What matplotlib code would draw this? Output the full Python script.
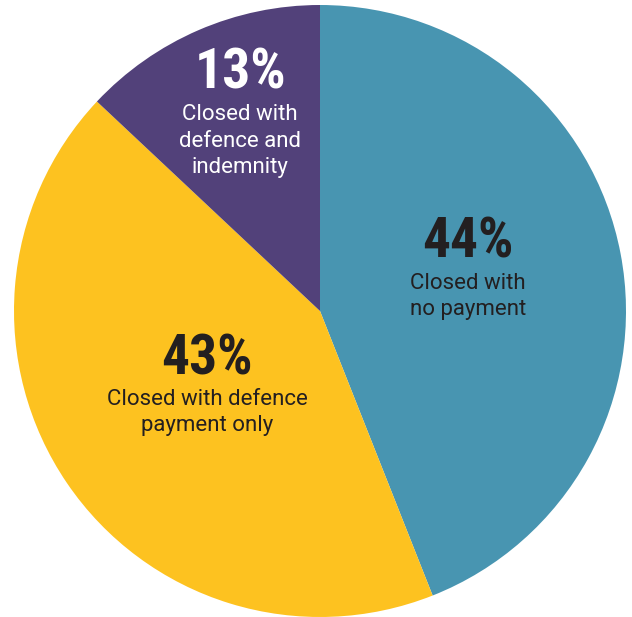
import matplotlib
matplotlib.use("Agg")
import matplotlib.pyplot as plt

# claim outcome shares, clockwise from 12 o'clock
labels = ["Closed with\nno payment", "Closed with defence\npayment only", "Closed with\ndefence and\nindemnity"]
shares = [44, 43, 13]
colors = ["#4895B1", "#FDC220", "#52417A"]
text_colors = ["#231F20", "#231F20", "#FFFFFF"]

# label anchor points in axes data units (pie radius = 1)
pct_pos = [(0.484, 0.225), (-0.369, -0.16), (-0.261, 0.776)]
txt_pos = [(0.484, 0.048), (-0.369, -0.332), (-0.261, 0.555)]

fig = plt.figure(figsize=(6.32, 6.17), dpi=100)
ax = fig.add_axes([14 / 632, 0.0, 612 / 632, 612 / 617])
ax.pie(shares, colors=colors, startangle=90, counterclock=False, radius=1.0,
       wedgeprops=dict(linewidth=0))
ax.set_xlim(-1, 1)
ax.set_ylim(-1, 1)
ax.set_aspect("equal")
ax.axis("off")

for s, lab, c, p, t in zip(shares, labels, text_colors, pct_pos, txt_pos):
    ax.text(p[0], p[1], f"{s}%", ha="center", va="center", color=c,
            fontsize=40, fontweight="bold",
            family=["Roboto Condensed", "Open Sans Condensed", "Roboto"])
    ax.text(t[0], t[1], lab, ha="center", va="center", color=c,
            fontsize=16, linespacing=1.35, family=["Roboto", "DejaVu Sans"])

fig.savefig("out.png", dpi=100)
